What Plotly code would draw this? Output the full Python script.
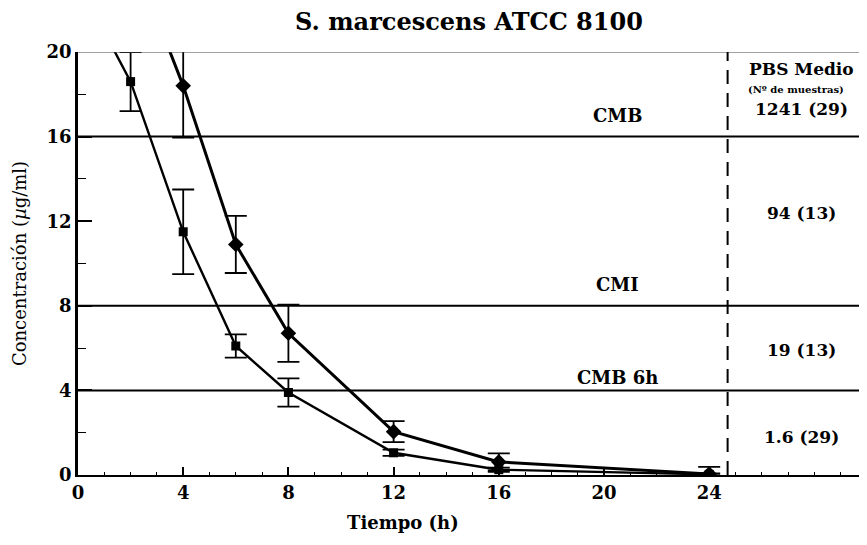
import plotly.graph_objects as go

# Data
time_sq = [0, 2, 4, 6, 8, 12, 16, 24]
conc_sq = [23.3, 18.6, 11.5, 6.1, 3.9, 1.05, 0.25, 0.03]
err_sq = [0.0, 1.4, 2.0, 0.55, 0.67, 0.15, 0.1, 0.05]

time_di = [2, 4, 6, 8, 12, 16, 24]
conc_di = [24.8, 18.4, 10.9, 6.7, 2.05, 0.62, 0.05]
err_di = [0.0, 2.45, 1.35, 1.35, 0.5, 0.4, 0.33]

threshold_vals = [16, 8, 4]
threshold_names = ["CMB", "CMI", "CMB 6h"]
threshold_label_y = [17.0, 9.0, 4.6]

pbs_values = ["1241 (29)", "94 (13)", "19 (13)", "1.6 (29)"]
pbs_label_y = [17.3, 12.4, 5.9, 1.8]

x_ticks = [0, 4, 8, 12, 16, 20, 24]
y_ticks = [0, 4, 8, 12, 16, 20]
x_divider = 24.7

SERIF = "DejaVu Serif, Liberation Serif, serif"

fig = go.Figure()

fig.add_trace(go.Scatter(
    x=time_sq, y=conc_sq, mode="lines+markers",
    line=dict(color="black", width=2.4),
    marker=dict(symbol="square", size=9, color="black"),
    error_y=dict(type="data", array=err_sq, visible=True, color="black", thickness=1.8, width=11),
    showlegend=False,
))
fig.add_trace(go.Scatter(
    x=time_di, y=conc_di, mode="lines+markers",
    line=dict(color="black", width=3),
    marker=dict(symbol="diamond", size=12, color="black"),
    error_y=dict(type="data", array=err_di, visible=True, color="black", thickness=1.8, width=11),
    showlegend=False,
))

shapes = []
for v in threshold_vals:
    shapes.append(dict(type="line", xref="paper", yref="y", x0=0, x1=1, y0=v, y1=v,
                       line=dict(color="black", width=2)))
# top border
shapes.append(dict(type="line", xref="paper", yref="y", x0=0, x1=1, y0=20, y1=20,
                   line=dict(color="#444", width=1.2)))
# dashed divider
shapes.append(dict(type="line", xref="x", yref="y", x0=x_divider, x1=x_divider, y0=0, y1=20,
                   line=dict(color="black", width=2, dash="14px,9px")))

annotations = []
for name, yy in zip(threshold_names, threshold_label_y):
    annotations.append(dict(x=20.5, y=yy, xref="x", yref="y", text=name, showarrow=False,
                            font=dict(family=SERIF, size=18, color="black", weight="bold")))
annotations.append(dict(x=27.5, y=19.2, xref="x", yref="y", text="PBS Medio", showarrow=False,
                        font=dict(family=SERIF, size=17, color="black", weight="bold")))
annotations.append(dict(x=27.3, y=18.25, xref="x", yref="y", text="(Nº de muestras)", showarrow=False,
                        font=dict(family=SERIF, size=10, color="black", weight="bold")))
for txt, yy in zip(pbs_values, pbs_label_y):
    annotations.append(dict(x=27.5, y=yy, xref="x", yref="y", text=txt, showarrow=False,
                            font=dict(family=SERIF, size=17, color="black", weight="bold")))
annotations.append(dict(x=(469 - 78) / 789, y=1.071, xref="paper", yref="paper", yanchor="middle",
                        xanchor="center", text="S. marcescens ATCC 8100", showarrow=False,
                        font=dict(family=SERIF, size=24, color="black", weight="bold")))
annotations.append(dict(x=12.35, y=-0.113, xref="x", yref="paper", yanchor="middle",
                        xanchor="center", text="Tiempo (h)", showarrow=False,
                        font=dict(family=SERIF, size=18, color="black", weight="bold")))
annotations.append(dict(x=-0.074, y=0.5, xref="paper", yref="paper", textangle=-90,
                        xanchor="center", yanchor="middle",
                        text="Concentración (<i>µ</i>g/ml)", showarrow=False,
                        font=dict(family=SERIF, size=18, color="black")))

fig.update_layout(
    width=859, height=537,
    margin=dict(l=70, r=0, t=44, b=70),
    paper_bgcolor="white", plot_bgcolor="white",
    shapes=shapes, annotations=annotations,
    xaxis=dict(range=[0, 30], tickvals=x_ticks, showgrid=False, zeroline=False,
               showline=True, linecolor="black", linewidth=2,
               ticks="inside", ticklen=8, tickwidth=1.5, tickcolor="black",
               tickfont=dict(family=SERIF, size=18, color="black", weight="bold"),
               minor=dict(dtick=1, ticks="inside", ticklen=3, tickcolor="black", tickwidth=1)),
    yaxis=dict(range=[0, 20], tickvals=y_ticks, showgrid=False, zeroline=False,
               showline=True, linecolor="black", linewidth=2.5,
               ticks="inside", ticklen=14, tickwidth=1.5, tickcolor="black",
               tickfont=dict(family=SERIF, size=18, color="black", weight="bold"),
               minor=dict(tickvals=[2, 6, 10, 14, 18], ticks="inside", ticklen=8, tickcolor="black", tickwidth=1.2)),
)

fig.write_html("out.html")
